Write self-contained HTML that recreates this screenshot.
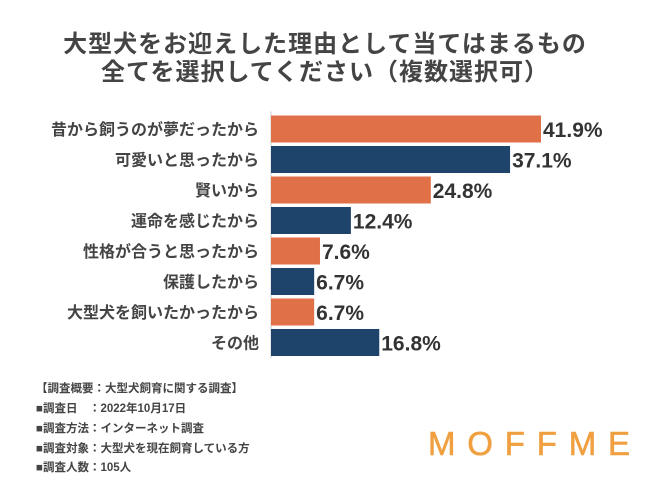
<!DOCTYPE html>
<html><head><meta charset="utf-8"><style>
body{margin:0;background:#fff;width:650px;height:488px;overflow:hidden;font-family:"Liberation Sans","Noto Sans CJK JP",sans-serif;}
.t{position:absolute;left:0;width:650px;text-align:center;font-size:24px;letter-spacing:1px;font-weight:bold;color:#444;line-height:28px;}
.note{position:absolute;left:36px;font-size:11.5px;color:#444;font-weight:bold;}
</style></head><body>
<div class="t" style="top:31px">大型犬をお迎えした理由として当てはまるもの</div>
<div class="t" style="top:59px">全てを選択してください（複数選択可）</div>
<svg id="chart" width="650" height="488" style="position:absolute;left:0;top:0">
<text x="428" y="455" font-size="33" fill="#F0A040" stroke="#F0A040" stroke-width="0.6" textLength="202" lengthAdjust="spacing" font-family="Liberation Sans, sans-serif">MOFFME</text>
</svg>
<div class="note" style="top:380px">【調査概要：大型犬飼育に関する調査】</div>
<div class="note" style="top:400px">■調査日　：2022年10月17日</div>
<div class="note" style="top:420px">■調査方法：インターネット調査</div>
<div class="note" style="top:440px">■調査対象：大型犬を現在飼育している方</div>
<div class="note" style="top:459px">■調査人数：105人</div>
<script>
const categories=["昔から飼うのが夢だったから","可愛いと思ったから","賢いから","運命を感じたから","性格が合うと思ったから","保護したから","大型犬を飼いたかったから","その他"];
const values=[41.9,37.1,24.8,12.4,7.6,6.7,6.7,16.8];
const colors=["#E07048","#1F446B"];
const svg=document.getElementById('chart');
const NS="http://www.w3.org/2000/svg";
const x0=271, pxPer=270/41.9, y0=129, pitch=30.5, bh=27;
const xs=v=>x0+v*pxPer;
const ys=i=>y0+i*pitch;
const axis=document.createElementNS(NS,'line');


axis.setAttribute('x1',x0);axis.setAttribute('x2',x0);axis.setAttribute('y1',ys(0)-bh/2-4);axis.setAttribute('y2',ys(categories.length-1)+bh/2+2);
axis.setAttribute('stroke','#ccc');axis.setAttribute('stroke-width','1');
svg.appendChild(axis);
categories.forEach((c,i)=>{
  const r=document.createElementNS(NS,'rect');
  
  
  r.setAttribute('x',x0);r.setAttribute('y',ys(i)-bh/2);
  r.setAttribute('width',xs(values[i])-x0);r.setAttribute('height',bh);
  r.setAttribute('fill',colors[i%2]);
  svg.appendChild(r);
  const l=document.createElementNS(NS,'text');
  
  
  l.setAttribute('x',259);l.setAttribute('y',ys(i)+6);
  l.setAttribute('text-anchor','end');l.setAttribute('font-size','16');l.setAttribute('font-weight','bold');l.setAttribute('fill','#444');
  l.textContent=c;svg.appendChild(l);
  const v=document.createElementNS(NS,'text');
  
  
  v.setAttribute('x',xs(values[i])+2);v.setAttribute('y',ys(i)+8);
  v.setAttribute('font-size','21');v.setAttribute('font-weight','bold');v.setAttribute('fill','#333');
  v.textContent=values[i].toFixed(1)+'%';svg.appendChild(v);
});
</script>
</body></html>
